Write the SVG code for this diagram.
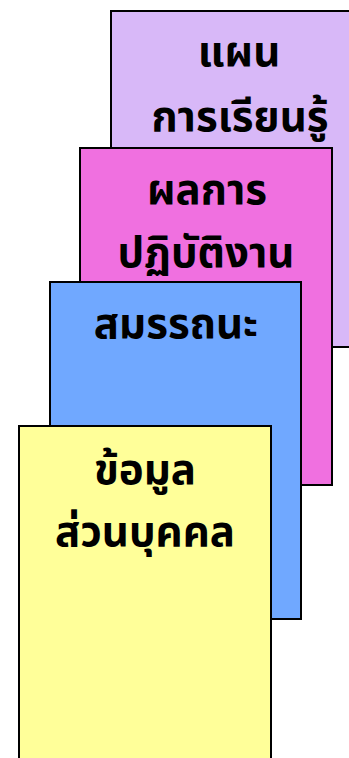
<svg xmlns="http://www.w3.org/2000/svg" width="349" height="758" viewBox="0 0 349 758">
<style>
.card{stroke:#000;stroke-width:2}
.t{font-family:"Noto Sans Thai","Noto Sans","DejaVu Sans",sans-serif;font-weight:bold;font-size:42px;fill:#000;text-anchor:middle}
</style>
<rect width="349" height="758" fill="#fff"/>
<g id="plan">
<rect class="card" x="111" y="11" width="240" height="336" fill="#D8B8F8"/>
<text class="t" x="239" y="66">แผน</text>
<text class="t" x="240" y="131">การเรียนรู้</text>
</g>
<g id="performance">
<rect class="card" x="80" y="148" width="252" height="337" fill="#F070E0"/>
<text class="t" x="207" y="204">ผลการ</text>
<text class="t" x="206" y="267">ปฏิบัติงาน</text>
</g>
<g id="competency">
<rect class="card" x="50" y="282" width="251" height="337" fill="#70A8FF"/>
<text class="t" x="176" y="338">สมรรถนะ</text>
</g>
<g id="personal">
<rect class="card" x="19" y="426" width="252" height="340" fill="#FFFF99"/>
<text class="t" x="145" y="484">ข้อมูล</text>
<text class="t" x="145" y="546">ส่วนบุคคล</text>
</g>
<g id="connectors"/>
</svg>
